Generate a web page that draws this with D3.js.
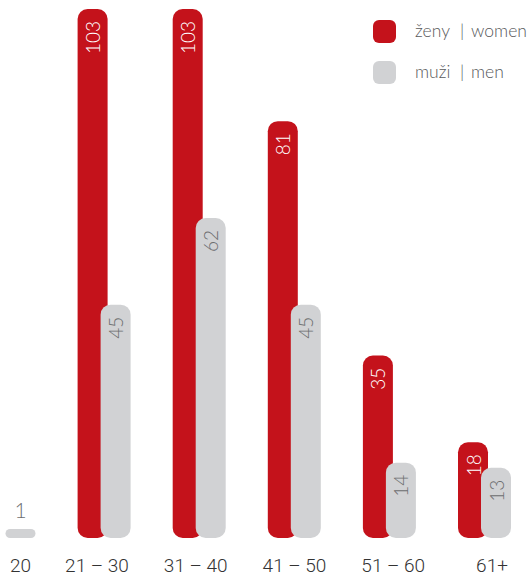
<!DOCTYPE html>
<html>
<head>
<meta charset="utf-8">
<script src="https://cdn.jsdelivr.net/npm/d3@7"></script>
<style>
  html, body { margin: 0; padding: 0; background: #fff; }
  svg { display: block; }
</style>
</head>
<body>
<svg id="chart" width="532" height="577"></svg>
<script>
// Age groups and counts per group
const ageGroups = ["20", "21 – 30", "31 – 40", "41 – 50", "51 – 60", "61+"];
const women = [0, 103, 103, 81, 35, 18];
const men = [1, 45, 62, 45, 14, 13];
const legendLabels = [["ženy", "women"], ["muži", "men"]];

const baseY = 538;
const barW = 30;
const overlap = 7;
const red = "#c4121b";
const grey = "#d1d2d4";

const svg = d3.select("#chart");

// Group centres
const x = d3.scalePoint().domain(ageGroups).range([9, 484.5]);
// Category label positions for the age ranges
const labelX = d3.scalePoint().domain(ageGroups.slice(1)).range([97, 492]);
// Bar tops; a zero value still keeps a short rounded stub
const y = d3.scaleLinear().domain([0, 103]).range([baseY - 4, 9]);

const half = barW / 2 - overlap / 2;
const series = [
  { key: "women", values: women, fill: red, text: "#fff", offset: -half },
  { key: "men", values: men, fill: grey, text: "#6d6e70", offset: half }
];

function barX(i, s) {
  return x(ageGroups[i]) + s.offset - barW / 2;
}

const g = svg.append("g");

series.forEach(s => {
  const data = s.values.map((v, i) => ({ v, i })).filter(d => d.v > 0);
  g.selectAll("rect." + s.key)
    .data(data)
    .join("rect")
    .attr("class", s.key)
    .attr("x", d => barX(d.i, s))
    .attr("y", d => y(d.v))
    .attr("width", barW)
    .attr("height", d => baseY - y(d.v))
    .attr("rx", d => Math.min(10, (baseY - y(d.v)) / 2))
    .attr("ry", d => Math.min(10, (baseY - y(d.v)) / 2))
    .attr("fill", s.fill);

  // Value labels: vertical inside tall bars, horizontal above tiny ones
  data.forEach(d => {
    const cx = barX(d.i, s) + barW / 2;
    const h = baseY - y(d.v);
    if (h > 40) {
      g.append("text")
        .attr("transform", `translate(${cx},${y(d.v) + 12}) rotate(-90)`)
        .attr("text-anchor", "end")
        .attr("dominant-baseline", "central")
        .attr("font-family", "Lato, sans-serif")
        .attr("font-weight", 300)
        .attr("font-size", 19)
        .attr("fill", s.text)
        .text(d.v);
    } else {
      g.append("text")
        .attr("x", cx)
        .attr("y", y(d.v) - 11)
        .attr("text-anchor", "middle")
        .attr("font-family", "Lato, sans-serif")
        .attr("font-weight", 300)
        .attr("font-size", 21)
        .attr("fill", "#6d6e70")
        .text(d.v);
    }
  });
});

// Category labels
svg.append("g")
  .selectAll("text")
  .data(ageGroups)
  .join("text")
  .attr("x", (d, i) => i === 0 ? barX(0, series[1]) + barW / 2 : labelX(d))
  .attr("y", 572)
  .attr("text-anchor", "middle")
  .attr("font-family", "Roboto, sans-serif")
  .attr("font-weight", 300)
  .attr("font-size", 19)
  .attr("fill", "#333")
  .text(d => d);

// Legend
const legend = svg.append("g");
series.forEach((s, i) => {
  const row = legend.append("g").attr("transform", `translate(373,${20 + i * 41})`);
  row.append("rect")
    .attr("width", 23).attr("height", 23)
    .attr("rx", 6).attr("ry", 6)
    .attr("fill", s.fill);
  const t = row.append("text")
    .attr("y", 17)
    .attr("font-family", "Lato, sans-serif")
    .attr("font-weight", 300)
    .attr("font-size", 17.5)
    .attr("fill", "#58595b");
  t.append("tspan").attr("x", 42).text(legendLabels[i][0]);
  t.append("tspan").attr("x", 87).text("|");
  t.append("tspan").attr("x", 98).text(legendLabels[i][1]);
});
</script>
</body>
</html>
